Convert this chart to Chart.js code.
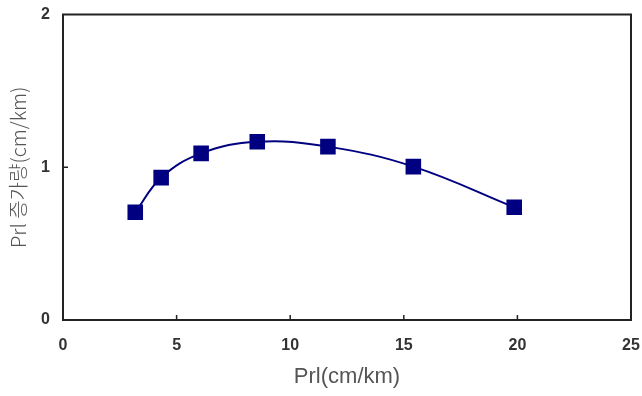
<!DOCTYPE html>
<html>
<head>
<meta charset="utf-8">
<script src="https://cdn.jsdelivr.net/npm/chart.js@4"></script>
<style>
  html, body { margin: 0; padding: 0; background: #fff; }
  #wrap { width: 642px; height: 396px; }
</style>
</head>
<body>
<div id="wrap"><canvas id="c" width="642" height="396"></canvas></div>
<script>
// Prl (cm/km) measurements and the matching Prl increase
const prlValues = [3.18, 4.32, 6.08, 8.55, 11.66, 15.42, 19.86];
const prlIncrease = [0.705, 0.932, 1.091, 1.167, 1.135, 1.004, 0.738];
const xTicks = [0, 5, 10, 15, 20, 25];
const yTicks = [0, 1, 2];
const xTitle = 'Prl(cm/km)';
const yTitle = 'Prl 증가량(cm/km)';

const points = prlValues.map((x, i) => ({ x: x, y: prlIncrease[i] }));

// Frame around the plot area plus short inward tick marks
const framePlugin = {
  id: 'frame',
  afterDatasetsDraw(chart) {
    const { ctx, chartArea: a, scales } = chart;
    ctx.save();
    ctx.strokeStyle = '#222';
    ctx.lineWidth = 2;
    ctx.strokeRect(a.left, a.top, a.right - a.left, a.bottom - a.top);
    ctx.lineWidth = 1.5;
    ctx.beginPath();
    xTicks.slice(1, -1).forEach(v => {
      const px = scales.x.getPixelForValue(v);
      ctx.moveTo(px, a.bottom);
      ctx.lineTo(px, a.bottom - 5);
    });
    yTicks.slice(1, -1).forEach(v => {
      const py = scales.y.getPixelForValue(v);
      ctx.moveTo(a.left, py);
      ctx.lineTo(a.left + 5, py);
    });
    ctx.stroke();
    ctx.restore();
  }
};

// Fixed axis boxes; label overhang must not shrink the plot area
function fixBox(size) {
  return s => {
    if (s.isHorizontal()) s.height = size; else s.width = size;
    s.paddingTop = 0; s.paddingBottom = 0; s.paddingLeft = 0; s.paddingRight = 0;
  };
}

const tickFont = { family: 'Liberation Sans', size: 16, weight: 'bold' };

new Chart(document.getElementById('c'), {
  type: 'scatter',
  data: {
    datasets: [{
      data: points,
      showLine: true,
      tension: 0.4,
      borderColor: '#000080',
      borderWidth: 2,
      backgroundColor: '#000080',
      pointStyle: 'rect',
      pointRadius: 11,
      pointHoverRadius: 11,
      pointBorderWidth: 0
    }]
  },
  options: {
    responsive: false,
    animation: false,
    layout: { padding: { left: 0, right: 10, top: 14.5, bottom: 0 } },
    plugins: { legend: { display: false }, tooltip: { enabled: false } },
    scales: {
      x: {
        type: 'linear',
        min: 0, max: 25,
        afterBuildTicks: s => { s.ticks = xTicks.map(v => ({ value: v })); },
        afterFit: fixBox(76),
        grid: { display: false, drawTicks: false },
        border: { display: false },
        ticks: { padding: 16, color: '#333', font: tickFont },
        title: { display: true, text: xTitle, color: '#555', padding: { top: 0, bottom: 6 },
                 font: { family: 'Liberation Sans', size: 22 } }
      },
      y: {
        type: 'linear',
        min: 0, max: 2,
        afterBuildTicks: s => { s.ticks = yTicks.map(v => ({ value: v })); },
        afterFit: fixBox(63),
        grid: { display: false, drawTicks: false },
        border: { display: false },
        ticks: { padding: 13, color: '#333', font: tickFont },
        title: { display: true, text: yTitle, color: '#555', padding: { top: 6, bottom: 0 },
                 font: { family: 'Noto Sans CJK KR', size: 20, weight: 300 } }
      }
    }
  },
  plugins: [framePlugin]
});
</script>
</body>
</html>
